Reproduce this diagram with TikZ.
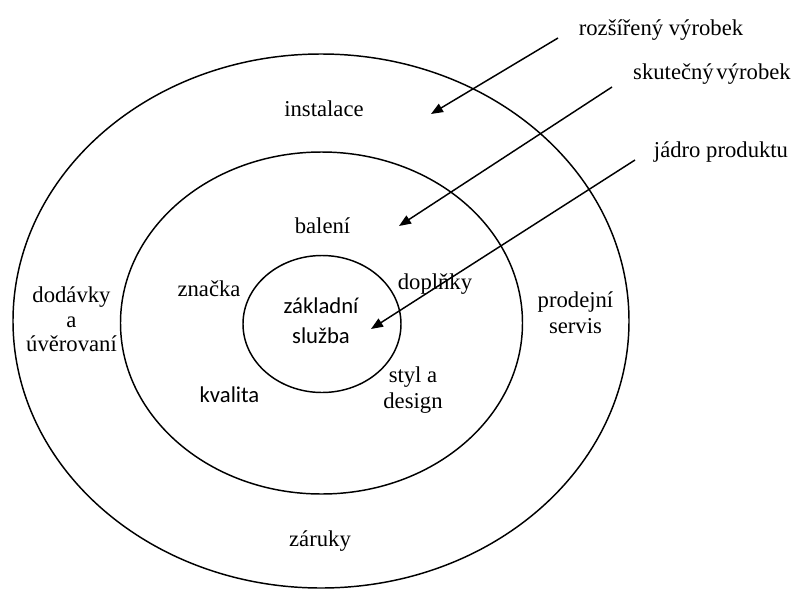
\documentclass[tikz,border=0pt]{standalone}
\usepackage{fontspec}
\setmainfont{Liberation Serif}
\newfontfamily\calfont{Carlito}
\usetikzlibrary{shapes.geometric,arrows.meta}

\tikzset{
  ring/.style={draw=black, line width=1.1pt, ellipse, inner sep=0pt},
  lbl/.style={inner sep=0pt, anchor=base, align=center,
    font=\fontsize{17}{19.5}\selectfont},
  slbl/.style={lbl, font=\calfont\fontsize{17}{19.5}\selectfont},
  pointer/.style={draw=black, line width=1.1pt,
    -{Triangle[length=9pt,width=7pt]}},
}

\begin{document}
\begin{tikzpicture}[x={(0.75pt,0)}, y={(0,-0.75pt)}]
  \useasboundingbox (0,0) rectangle (794,590);

  % three product levels
  \node[ring, minimum width=462pt, minimum height=400.5pt] (outer) at (321,321) {};
  \node[ring, minimum width=301.5pt, minimum height=256.5pt] (middle) at (321.5,323) {};
  \node[ring, minimum width=118.5pt, minimum height=102.75pt] (inner) at (322,324) {};

  % outer ring: augmented product (multi-line nodes sit on their last baseline)
  \node[lbl] (instalace) at (324,116) {instalace};
  \node[lbl] (zaruky) at (320,546.7) {záruky};
  \node[lbl, font=\fontsize{17}{18.4}\selectfont] (dodavky) at (71.5,351.7) {dodávky\\a\\úvěrovaní};
  \node[lbl] (servis) at (575.5,333) {prodejní\\servis};

  % middle ring: actual product
  \node[lbl] (baleni) at (322.5,233) {balení};
  \node[lbl] (znacka) at (209,296.7) {značka};
  \node[slbl] (kvalita) at (229.5,402) {kvalita};
  \node[lbl] (doplnky) at (435,289) {doplňky};
  \node[lbl] (styl) at (413,408) {styl a\\design};

  % core
  \node[slbl, font=\calfont\fontsize{17}{22.5}\selectfont] (sluzba) at (321,343) {základní\\služba};

  % level captions
  \node[lbl] (rozs) at (661,35) {rozšířený výrobek};
  \node[lbl] (skut) at (712,79) {skutečný\hspace{0.12em}výrobek};
  \node[lbl] (jadro) at (721,157) {jádro produktu};

  % pointer ends
  \coordinate (rozsA) at (558,38);
  \coordinate (rozsB) at (431,114);
  \coordinate (skutA) at (612,87);
  \coordinate (skutB) at (399,226);
  \coordinate (jadroA) at (635,160);
  \coordinate (jadroB) at (371,329);

  \draw[pointer] (rozsA) -- (rozsB);
  \draw[pointer] (skutA) -- (skutB);
  \draw[pointer] (jadroA) -- (jadroB);
\end{tikzpicture}
\end{document}
